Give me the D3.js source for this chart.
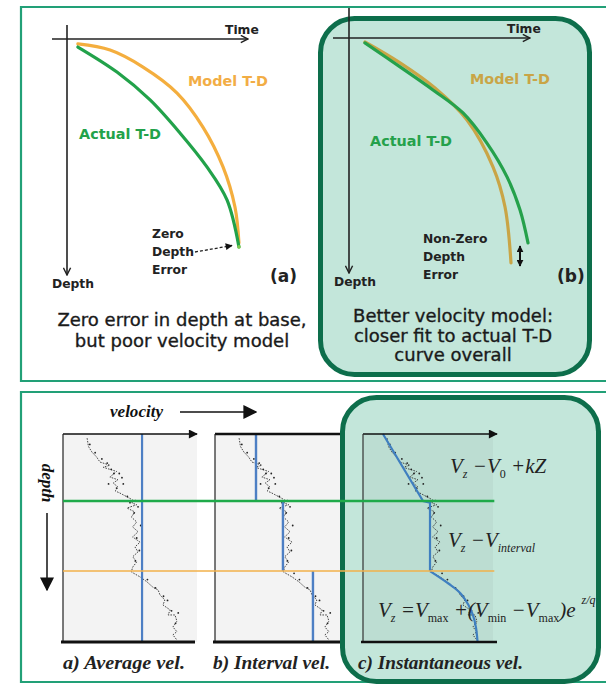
<!DOCTYPE html>
<html><head><meta charset="utf-8">
<script src="https://cdn.jsdelivr.net/npm/d3@7"></script>
<style>
html,body{margin:0;padding:0;background:#fff;}
svg{display:block;}
.sans{font-family:"DejaVu Sans",Verdana,sans-serif;}
.serif{font-family:"Liberation Serif","Times New Roman",serif;}
</style></head>
<body>
<script>
// ---------------- DATA ----------------
// Top panels: time (x) vs depth (y), both in arbitrary units 0..100
const actualTD_a = [[6,3.4],[27.6,14],[45.9,25.8],[62.4,39.8],[77.3,54.2],[88.4,68.2],[95,88.1]];
const modelTD_a  = [[6,2.1],[23.8,4.7],[42,11.9],[60.8,22.9],[75.1,37.3],[86.2,54.2],[92.8,71.2],[95,86.4]];
const actualTD_b = [[8.8,2.1],[28.2,12.3],[46.4,22.1],[63,31.9],[76.2,44.7],[87.3,59.1],[94.5,73.2],[98.9,87.2]];
const modelTD_b  = [[8.8,1.7],[28.2,10.6],[47.5,21.3],[65.2,34.9],[79.6,54.9],[86.2,71.9],[89.5,95.7]];

// Bottom panels: well-log velocity (0..100) vs depth (0..100)
const logVelocity = [18,19,21.6,25,27.6,35,30,37.5,40,35,41,37.5,41,39,42.5,52,51.5,55,47.8,53.7,51,55,52,56,52,57.5,53.7,56,52,55,52,51,57.5,62.5,67,71,72.4,76,74.6,80,78.4,83.6,85,82,85,82,85];
const logDepth    = [2,6,8.7,11,13.5,15,16,17.5,18,20.7,22,23.6,25.5,27.4,28.4,31.7,33.2,34,35.6,37.5,39.9,42.3,44.7,47,49.5,52,54.3,56.7,59,61.5,64,66.3,68.7,71,73.6,75,77.4,79.8,82.2,84.6,87,87,90,92.8,95,96.6,99];
const scatterVel   = [20,24,29,33,36,38,42,44,34,40,45,48,50,54,56,53,58,55,57,54,59,63,69,75,78,81,86,84];
const scatterDepth = [5,9,12,14,17,19,19,21,24,26,24,30,33,32,35,38,44,50,56,61,67,70,74,78,80,85,86,91];

const layerTops = [0, 32.2, 65.9, 100];           // green & orange boundaries
const averageVel = [59];                            // a) one value for whole section
const intervalVel = [30.6, 50.7, 73.1];              // b) one per layer
// c) instantaneous: linear gradient, constant, then exponential
const instDepth = [0, 32.2, 33, 65.9, 72, 76.4, 82, 87, 93, 100];
const instVel   = [14.9, 44.8, 50, 50, 64, 72.5, 78.5, 82, 84.3, 85.5];

const plotNames = ["a) Average  vel.", "b) Interval vel.", "c) Instantaneous vel."];
const captionA = ["Zero error in depth at base,", "but poor velocity model"];
const captionB = ["Better velocity model:", "closer fit to actual T-D", "curve overall"];
const errLabelA = ["Zero","Depth","Error"];
const errLabelB = ["Non-Zero","Depth","Error"];

// ---------------- DRAW ----------------
const W = 606, H = 685;
const svg = d3.select("body").append("svg").attr("width", W).attr("height", H);
const defs = svg.append("defs");
function marker(id, color, w, h, filled){
  const m = defs.append("marker").attr("id", id).attr("viewBox","0 0 10 10")
    .attr("refX", 9).attr("refY", 5).attr("markerWidth", w).attr("markerHeight", h)
    .attr("orient","auto-start-reverse").attr("markerUnits","userSpaceOnUse");
  if (filled) m.append("path").attr("d","M0,0 L10,5 L0,10 Z").attr("fill", color);
  else m.append("path").attr("d","M1,1 L9,5 L1,9").attr("fill","none").attr("stroke",color).attr("stroke-width",1.6);
}
marker("arrOpen", "#222", 10, 9, false);
marker("arrFill", "#111", 10, 9, true);
marker("arrBig", "#111", 14, 14, true);
marker("arrSmall", "#111", 8, 7, true);
marker("arrDbl", "#111", 7, 7, true);

const frameColor = "#22a077", boxStroke = "#0d6e4b", mint = "#c3e6da";

// frames
svg.append("path").attr("d","M608,7 H21 V381 H608").attr("fill","none").attr("stroke",frameColor).attr("stroke-width",2.2);
svg.append("path").attr("d","M608,392 H21 V682 H608").attr("fill","none").attr("stroke",frameColor).attr("stroke-width",2.2);

// rounded highlight box (b)
svg.append("rect").attr("x",320.5).attr("y",18.5).attr("width",269).attr("height",356).attr("rx",34)
  .attr("fill",mint).attr("stroke",boxStroke).attr("stroke-width",5);

// ---------- top panels ----------
function tdPanel(xr, yr, axisX0, axisY0, actual, model, actualCol, modelCol){
  const x = d3.scaleLinear().domain([0,100]).range(xr);
  const y = d3.scaleLinear().domain([0,100]).range(yr);
  const g = svg.append("g");
  g.append("line").attr("x1",axisX0).attr("x2",x(100)).attr("y1",y(0)).attr("y2",y(0))
    .attr("stroke","#222").attr("stroke-width",1.6).attr("marker-end","url(#arrOpen)");
  g.append("line").attr("x1",x(0)).attr("x2",x(0)).attr("y1",axisY0).attr("y2",y(100))
    .attr("stroke","#222").attr("stroke-width",1.6).attr("marker-end","url(#arrOpen)");
  const line = d3.line().x(d=>x(d[0])).y(d=>y(d[1])).curve(d3.curveCatmullRom);
  g.append("path").attr("d",line(model)).attr("fill","none").attr("stroke",modelCol).attr("stroke-width",3.2).attr("stroke-linecap","round");
  g.append("path").attr("d",line(actual)).attr("fill","none").attr("stroke",actualCol).attr("stroke-width",3.2).attr("stroke-linecap","round");
  g.append("text").attr("class","sans").attr("x",x(100)-23).attr("y",y(0)-5).attr("font-size",12.3).attr("font-weight","bold").attr("fill","#222").text("Time");
  g.append("text").attr("class","sans").attr("x",x(0)-15).attr("y",y(100)+13).attr("font-size",12.3).attr("font-weight","bold").attr("fill","#222").text("Depth");
  return {x,y,g};
}
const pA = tdPanel([67,248],[39,275],52,25,actualTD_a,modelTD_a,"#22a24a","#f4ae3e");
const pB = tdPanel([349,530],[38,273],333,8,actualTD_b,modelTD_b,"#25a14b","#c9a546");

// panel (a) labels
pA.g.append("text").attr("class","sans").attr("x",188).attr("y",86).attr("font-size",14.4).attr("font-weight","bold").attr("fill","#f2ad45").text("Model T-D");
pA.g.append("text").attr("class","sans").attr("x",79).attr("y",139).attr("font-size",14.4).attr("font-weight","bold").attr("fill","#22a24a").text("Actual T-D");
errLabelA.forEach((t,i)=>pA.g.append("text").attr("class","sans").attr("x",152).attr("y",238+i*18).attr("font-size",12.3).attr("font-weight","bold").attr("fill","#222").text(t));
pA.g.append("line").attr("x1",195).attr("y1",252).attr("x2",232).attr("y2",245.5).attr("stroke","#222").attr("stroke-width",1.3)
  .attr("stroke-dasharray","3,2").attr("marker-end","url(#arrSmall)");
pA.g.append("circle").attr("cx",pA.x(95)).attr("cy",pA.y(88.1)).attr("r",1.8).attr("fill","#7ec850");
pA.g.append("text").attr("class","sans").attr("x",270).attr("y",282).attr("font-size",17).attr("font-weight","bold").attr("fill","#222").text("(a)");
captionA.forEach((t,i)=>svg.append("text").attr("class","sans").attr("x",182).attr("y",326+i*21).attr("text-anchor","middle").attr("font-size",18).attr("fill","#1a1a1a").attr("stroke","#1a1a1a").attr("stroke-width",0.35).text(t));

// panel (b) labels
pB.g.append("text").attr("class","sans").attr("x",470).attr("y",84).attr("font-size",14.4).attr("font-weight","bold").attr("fill","#c9a546").text("Model T-D");
pB.g.append("text").attr("class","sans").attr("x",370).attr("y",146).attr("font-size",14.4).attr("font-weight","bold").attr("fill","#25a14b").text("Actual T-D");
errLabelB.forEach((t,i)=>pB.g.append("text").attr("class","sans").attr("x",423).attr("y",243+i*18).attr("font-size",12.3).attr("font-weight","bold").attr("fill","#222").text(t));
pB.g.append("line").attr("x1",520).attr("x2",520).attr("y1",246).attr("y2",266).attr("stroke","#111").attr("stroke-width",2)
  .attr("marker-start","url(#arrDbl)").attr("marker-end","url(#arrDbl)");
pB.g.append("text").attr("class","sans").attr("x",557).attr("y",282).attr("font-size",17).attr("font-weight","bold").attr("fill","#222").text("(b)");
captionB.forEach((t,i)=>svg.append("text").attr("class","sans").attr("x",453).attr("y",322+i*19.5).attr("text-anchor","middle").attr("font-size",18).attr("fill","#1a1a1a").attr("stroke","#1a1a1a").attr("stroke-width",0.35).text(t));

// ---------- bottom panels ----------
const yD = d3.scaleLinear().domain([0,100]).range([434,642]);
const plotX0 = [63, 215, 363];
const xs = plotX0.map(x0 => d3.scaleLinear().domain([0,100]).range([x0, x0+134]));
const logPts = logVelocity.map((v,i)=>[v, logDepth[i]]);
const scatPts = scatterVel.map((v,i)=>[v, scatterDepth[i]]);

function drawLog(g, x){
  const l = d3.line().x(d=>x(d[0])).y(d=>yD(d[1]));
  g.append("path").attr("d",l(logPts)).attr("fill","none").attr("stroke","#333").attr("stroke-width",0.9).attr("stroke-dasharray","1.6,1.2");
  g.selectAll(null).data(scatPts).enter().append("circle").attr("cx",d=>x(d[0])).attr("cy",d=>yD(d[1])).attr("r",0.9).attr("fill","#222");
}

// plot a
const gA = svg.append("g");
gA.append("rect").attr("x",xs[0](0)).attr("y",yD(0)).attr("width",xs[0](100)-xs[0](0)).attr("height",yD(100)-yD(0)).attr("fill","#f3f3f3");
drawLog(gA, xs[0]);
gA.append("line").attr("x1",xs[0](averageVel[0])).attr("x2",xs[0](averageVel[0])).attr("y1",yD(0)).attr("y2",yD(100)).attr("stroke","#4d7fc4").attr("stroke-width",2.2);
gA.append("line").attr("x1",xs[0](0)).attr("x2",xs[0](100)).attr("y1",yD(0)).attr("y2",yD(0)).attr("stroke","#111").attr("stroke-width",1.5).attr("marker-end","url(#arrFill)");
gA.append("line").attr("x1",xs[0](0)).attr("x2",xs[0](0)).attr("y1",yD(0)).attr("y2",yD(100)).attr("stroke","#222").attr("stroke-width",1.2);
gA.append("line").attr("x1",xs[0](0)-2).attr("x2",xs[0](100)-2).attr("y1",yD(100)).attr("y2",yD(100)).attr("stroke","#111").attr("stroke-width",2.8);

// plot b
const gB = svg.append("g");
gB.append("rect").attr("x",xs[1](0)).attr("y",yD(0)).attr("width",130).attr("height",yD(100)-yD(0)).attr("fill","#f3f3f3");
drawLog(gB, xs[1]);
intervalVel.forEach((v,i)=>gB.append("line").attr("x1",xs[1](v)).attr("x2",xs[1](v)).attr("y1",yD(layerTops[i])).attr("y2",yD(layerTops[i+1])).attr("stroke","#4d7fc4").attr("stroke-width",2.4));
gB.append("line").attr("x1",xs[1](0)).attr("x2",xs[1](100)).attr("y1",yD(0)).attr("y2",yD(0)).attr("stroke","#111").attr("stroke-width",2.6);
gB.append("line").attr("x1",xs[1](0)).attr("x2",xs[1](0)).attr("y1",yD(0)).attr("y2",yD(100)).attr("stroke","#222").attr("stroke-width",1.2);
gB.append("line").attr("x1",xs[1](0)-2).attr("x2",xs[1](100)).attr("y1",yD(100)).attr("y2",yD(100)).attr("stroke","#111").attr("stroke-width",3);

// rounded highlight box (c)
svg.append("rect").attr("x",342.5).attr("y",397.5).attr("width",256).attr("height",284).attr("rx",34)
  .attr("fill",mint).attr("stroke",boxStroke).attr("stroke-width",5);

// plot c
const gC = svg.append("g");
gC.append("rect").attr("x",xs[2](0)).attr("y",yD(0)).attr("width",130).attr("height",yD(100)-yD(0)).attr("fill","#000").attr("opacity",0.035);
drawLog(gC, xs[2]);
const instPts = instVel.map((v,i)=>[v,instDepth[i]]);
const instLine = d3.line().x(d=>xs[2](d[0])).y(d=>yD(d[1]));
gC.append("path").attr("d", instLine.curve(d3.curveLinear)(instPts.slice(0,4)))
  .attr("fill","none").attr("stroke","#3f7fc0").attr("stroke-width",2.2);
gC.append("path").attr("d", instLine.curve(d3.curveCatmullRom)(instPts.slice(3)))
  .attr("fill","none").attr("stroke","#3f7fc0").attr("stroke-width",2.2);
gC.append("line").attr("x1",xs[2](0)).attr("x2",xs[2](100)).attr("y1",yD(0)).attr("y2",yD(0)).attr("stroke","#111").attr("stroke-width",1.5).attr("marker-end","url(#arrFill)");
gC.append("line").attr("x1",xs[2](0)).attr("x2",xs[2](0)).attr("y1",yD(0)).attr("y2",yD(100)).attr("stroke","#333").attr("stroke-width",1.2);
gC.append("line").attr("x1",xs[2](0)-2).attr("x2",xs[2](100)).attr("y1",yD(100)).attr("y2",yD(100)).attr("stroke","#111").attr("stroke-width",2.6);

// layer boundaries
svg.append("line").attr("x1",xs[0](0)).attr("x2",xs[2](98)).attr("y1",yD(layerTops[1])).attr("y2",yD(layerTops[1])).attr("stroke","#1faa4a").attr("stroke-width",2.6);
svg.append("line").attr("x1",xs[0](0)).attr("x2",xs[2](98)).attr("y1",yD(layerTops[2])).attr("y2",yD(layerTops[2])).attr("stroke","#f2b04a").attr("stroke-width",1.5);

// velocity / depth arrows
svg.append("text").attr("class","serif").attr("x",110).attr("y",417).attr("font-size",17).attr("font-style","italic").attr("font-weight","bold").attr("fill","#111").attr("textLength",53).attr("lengthAdjust","spacingAndGlyphs").text("velocity");
svg.append("line").attr("x1",180).attr("x2",256).attr("y1",412).attr("y2",412).attr("stroke","#111").attr("stroke-width",1.5).attr("marker-end","url(#arrBig)");
svg.append("text").attr("class","serif").attr("transform","translate(42,483) rotate(90)").attr("text-anchor","middle").attr("font-size",17).attr("font-style","italic").attr("font-weight","bold").attr("fill","#111").text("depth");
svg.append("line").attr("x1",47).attr("x2",47).attr("y1",513).attr("y2",590).attr("stroke","#111").attr("stroke-width",1.5).attr("marker-end","url(#arrBig)");

// plot names
const nameX = [63, 213, 358], nameW = [122, 117, 165];
plotNames.forEach((t,i)=>svg.append("text").attr("class","serif").attr("x",nameX[i]).attr("y",669).attr("font-size",19)
  .attr("font-style","italic").attr("font-weight","bold").attr("fill","#222").attr("textLength",nameW[i]).attr("lengthAdjust","spacingAndGlyphs").text(t));

// equations
function eq(x, y, parts){
  const t = svg.append("text").attr("class","serif").attr("x",x).attr("y",y).attr("font-size",21).attr("font-style","italic").attr("fill","#222");
  parts.forEach(p=>{
    const s = t.append("tspan").text(p.t);
    if (p.sub) s.attr("font-size",12).attr("dy",p.dy);
    else if (p.dy) s.attr("dy",p.dy);
    if (p.roman) s.attr("font-style","normal");
    if (p.size) s.attr("font-size",p.size);
    if (p.dx) s.attr("dx",p.dx);
  });
}
eq(450, 473, [{t:"V"},{t:"z",sub:true,dy:5},{t:" −V",dy:-5},{t:"0",sub:true,dy:5,roman:true},{t:" +kZ",dy:-5}]);
eq(448, 547, [{t:"V"},{t:"z",sub:true,dy:5},{t:" −V",dy:-5},{t:"interval",sub:true,dy:5}]);
eq(378, 617, [{t:"V"},{t:"z",sub:true,dy:5},{t:" =V",dy:-5},{t:"max",sub:true,dy:5,roman:true},{t:" +(V",dy:-5},{t:"min",sub:true,dy:5,roman:true},{t:" −V",dy:-5},{t:"max",sub:true,dy:5,roman:true},{t:")e",dy:-5},{t:"z/q",sub:true,dy:-13,dx:6}]);
</script>
</body></html>
